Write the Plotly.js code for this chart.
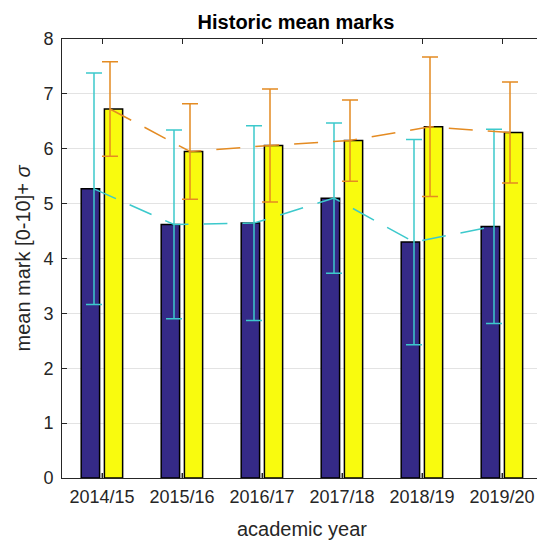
<!DOCTYPE html>
<html>
<head>
<meta charset="utf-8">
<script src="https://cdn.plot.ly/plotly-3.0.1.min.js"></script>
<style>
  html, body { margin: 0; padding: 0; overflow: hidden; background: #fff; }
  #chart { width: 545px; height: 543px; }
</style>
</head>
<body>
<div id="chart"></div>
<script>
// ---- data ----
var years = ["2014/15", "2015/16", "2016/17", "2017/18", "2018/19", "2019/20"];
var blueMean = [5.27, 4.62, 4.645, 5.10, 4.30, 4.585];
var blueSD = [2.11, 1.72, 1.775, 1.37, 1.87, 1.77];
var yellowMean = [6.725, 5.95, 6.06, 6.15, 6.40, 6.295];
var yellowSD = [0.86, 0.87, 1.03, 0.74, 1.27, 0.92];
var grayValue = [0.09, 0.09, 0.09, 0.09, 0.09, 0.09];

var pos = years.map(function (_, i) { return i + 1; });
var posLeft = pos.map(function (p) { return p - 0.1; });
var posRight = pos.map(function (p) { return p + 0.1; });

var cyan = "#3cc9cc";
var orange = "#e48b22";

var traces = [
  {
    type: "bar", x: pos, y: blueMean, offset: -0.26, width: 0.23,
    marker: { color: "#352a87", line: { color: "#000", width: 1.5 } },
    hoverinfo: "skip"
  },
  {
    type: "bar", x: pos, y: grayValue, offset: -0.012, width: 0.024,
    marker: { color: "#9a9a9a", line: { width: 0 } },
    hoverinfo: "skip"
  },
  {
    type: "bar", x: pos, y: yellowMean, offset: 0.03, width: 0.228,
    marker: { color: "#f9fb0e", line: { color: "#000", width: 1.5 } },
    hoverinfo: "skip"
  },
  {
    type: "scatter", mode: "lines", x: posLeft, y: blueMean,
    line: { color: cyan, width: 1.5, dash: "24px,15px" },
    error_y: { type: "data", array: blueSD, visible: true, color: cyan, thickness: 1.5, width: 8 },
    hoverinfo: "skip"
  },
  {
    type: "scatter", mode: "lines", x: posRight, y: yellowMean,
    line: { color: orange, width: 1.5, dash: "24px,15px" },
    error_y: { type: "data", array: yellowSD, visible: true, color: orange, thickness: 1.5, width: 8 },
    hoverinfo: "skip"
  }
];

var axisColor = "#262626";
var layout = {
  width: 545, height: 543,
  margin: { l: 62, r: 3, t: 38.5, b: 64.5 },
  paper_bgcolor: "#fff", plot_bgcolor: "#fff",
  showlegend: false,
  barmode: "overlay",
  font: { family: "Liberation Sans, Arial, sans-serif", color: axisColor },
  title: {
    text: "<b>Historic mean marks</b>",
    font: { family: "Liberation Sans, Arial, sans-serif", size: 20, color: "#000" },
    xref: "container", x: 296 / 545, xanchor: "center",
    yref: "container", y: 1 - 22 / 543, yanchor: "middle"
  },
  xaxis: {
    range: [0.5, 6.5],
    tickvals: pos, ticktext: years,
    ticks: "inside", ticklen: 5, tickcolor: axisColor, tickwidth: 1,
    showline: true, linecolor: axisColor, linewidth: 1, mirror: "ticks",
    showgrid: false, zeroline: false,
    ticklabelstandoff: 2,
    tickfont: { size: 18, color: axisColor },
    title: { text: "academic year", font: { size: 20, color: axisColor }, standoff: 16 }
  },
  yaxis: {
    range: [0, 8], dtick: 1, tick0: 0,
    ticks: "inside", ticklen: 5, tickcolor: axisColor, tickwidth: 1,
    showline: true, linecolor: axisColor, linewidth: 1, mirror: "ticks",
    showgrid: true, gridcolor: "#e3e3e3", gridwidth: 1, zeroline: false,
    ticklabelstandoff: 4,
    tickfont: { size: 18, color: axisColor },
    title: { text: "mean mark [0-10]+ <i>σ</i>", font: { size: 20, color: axisColor }, standoff: 7 }
  }
};

Plotly.newPlot("chart", traces, layout, { displayModeBar: false, staticPlot: true });
</script>
</body>
</html>
